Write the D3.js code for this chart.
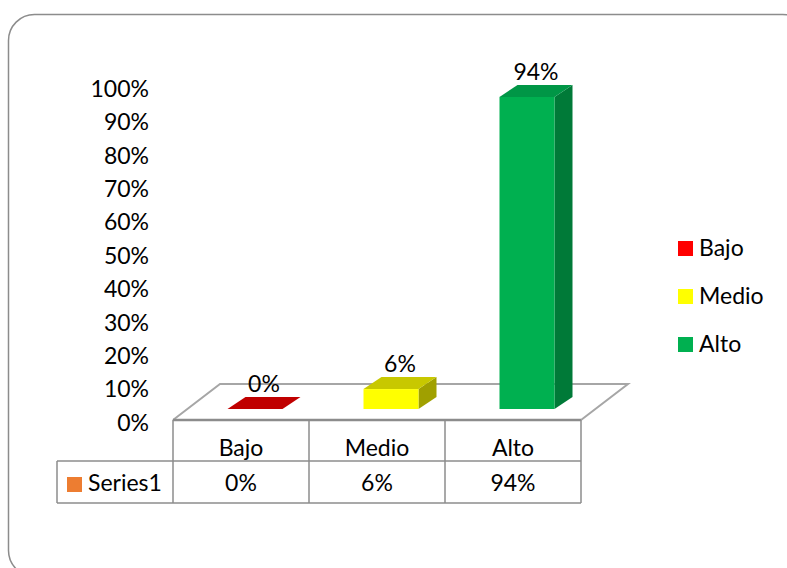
<!DOCTYPE html>
<html><head><meta charset="utf-8">
<script src="https://cdn.jsdelivr.net/npm/d3@7/dist/d3.min.js"></script>
<style>
html,body{margin:0;padding:0;background:#fff;}
svg text{font-family:Lato,"Open Sans",sans-serif;fill:#000;}
</style></head>
<body><svg id="c" width="787" height="568"></svg>
<script>
const categories = ["Bajo","Medio","Alto"];
const values = [0, 0.06, 0.94];
const valueLabels = ["0%","6%","94%"];
const seriesName = "Series1";
const tickValues = [0,0.1,0.2,0.3,0.4,0.5,0.6,0.7,0.8,0.9,1.0];
const frontColors = ["#ff0000","#ffff00","#00b050"];
const topColors = ["#c00000","#c8c800","#009646"];
const sideColors = ["#990000","#a0a000","#007a38"];
const seriesColor = "#ed7d31";

const svg = d3.select("#c");
const FS = 23;

// frame
svg.append("rect").attr("x",8.5).attr("y",14.5).attr("width",800).attr("height",562)
  .attr("rx",26).attr("fill","#fff").attr("stroke","#8c8c8c").attr("stroke-width",1.5);

const x = d3.scaleBand().domain(categories).range([173,581]).padding(0);
const y = d3.scaleLinear().domain([0,1]).range([409,77]);
const yAxisScale = y.copy().range([423,89]);

const floorFront = 420, depthX = 47, depthY = -36;
// floor
const fl = [[173,floorFront],[173+depthX,floorFront+depthY],[581+depthX,floorFront+depthY],[581,floorFront]];
svg.append("path").attr("d","M"+fl.map(p=>p.join(",")).join("L"))
  .attr("fill","none").attr("stroke","#a6a6a6").attr("stroke-width",2);

// axis labels
const ax = svg.append("g").attr("transform","translate(149,0)")
  .call(d3.axisLeft(yAxisScale).tickValues(tickValues).tickFormat(d3.format(".0%")).tickSize(0).tickPadding(0));
ax.select(".domain").remove();
ax.selectAll("text").attr("font-size",FS).attr("font-family","Lato,'Open Sans',sans-serif").attr("fill","#000");

// bars
const bw = 55, bdx = 18, bdy = -12, offX = 14;
const bars = svg.append("g");
categories.forEach((c,i)=>{
  const x0 = x(c) + (x.bandwidth()-bw)/2 + offX;
  const x1 = x0 + bw;
  const yb = y(0), yt = y(values[i]);
  if (values[i] > 0) {
    bars.append("path").attr("d",`M${x1},${yb}L${x1+bdx},${yb+bdy}L${x1+bdx},${yt+bdy}L${x1},${yt}Z`).attr("fill",sideColors[i]);
    bars.append("rect").attr("x",x0).attr("y",yt).attr("width",bw).attr("height",yb-yt).attr("fill",frontColors[i]);
  }
  bars.append("path").attr("d",`M${x0},${yt}L${x0+bdx},${yt+bdy}L${x1+bdx},${yt+bdy}L${x1},${yt}Z`).attr("fill",topColors[i]);
  svg.append("text").attr("x",(x0+x1+bdx)/2).attr("y",yt+bdy-5).attr("text-anchor","middle")
    .attr("font-size",FS).text(valueLabels[i]);
});

// data table
const tbl = svg.append("g").attr("stroke","#8c8c8c").attr("stroke-width",1.5).attr("fill","none");
const rowTop = floorFront, rowMid = 461, rowBot = 503, keyLeft = 57;
tbl.append("line").attr("x1",173).attr("x2",581).attr("y1",rowTop).attr("y2",rowTop).attr("stroke","#8c8c8c").attr("stroke-width",2.5);
tbl.append("line").attr("x1",keyLeft).attr("x2",581).attr("y1",rowMid).attr("y2",rowMid);
tbl.append("line").attr("x1",keyLeft).attr("x2",581).attr("y1",rowBot).attr("y2",rowBot);
tbl.append("line").attr("x1",keyLeft).attr("x2",keyLeft).attr("y1",rowMid).attr("y2",rowBot);
[173,...categories.map(c=>x(c)+x.bandwidth())].forEach(xx=>{
  tbl.append("line").attr("x1",xx).attr("x2",xx).attr("y1",rowTop).attr("y2",rowBot);
});
categories.forEach((c,i)=>{
  const cx = x(c)+x.bandwidth()/2;
  svg.append("text").attr("x",cx).attr("y",456).attr("text-anchor","middle").attr("font-size",FS).text(c);
  svg.append("text").attr("x",cx).attr("y",491).attr("text-anchor","middle").attr("font-size",FS).text(valueLabels[i]);
});
svg.append("rect").attr("x",67).attr("y",477).attr("width",15).attr("height",15).attr("fill",seriesColor);
svg.append("text").attr("x",88).attr("y",491).attr("font-size",FS).text(seriesName);

// legend
categories.forEach((c,i)=>{
  const ly = 241 + i*48;
  svg.append("rect").attr("x",678).attr("y",ly).attr("width",15).attr("height",15).attr("fill",frontColors[i]);
  svg.append("text").attr("x",699).attr("y",ly+15).attr("font-size",FS).text(c);
});
</script></body></html>
